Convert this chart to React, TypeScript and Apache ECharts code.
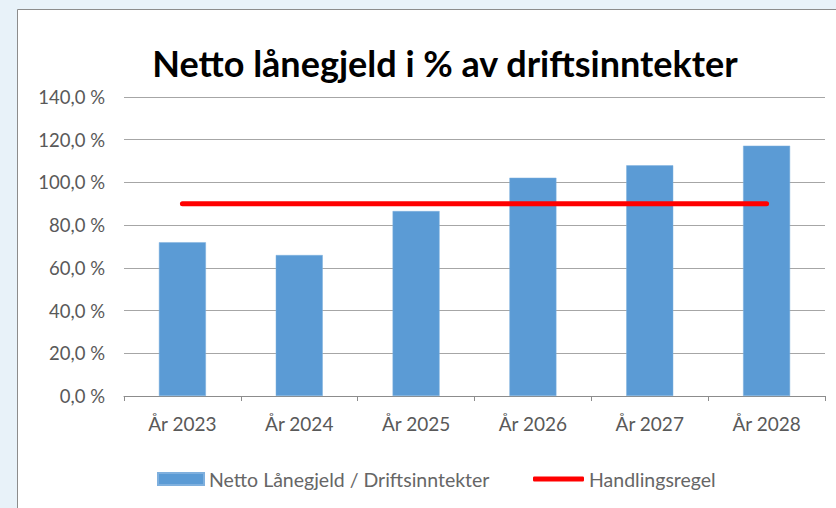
import React, { useEffect, useRef } from "react";
import * as echarts from "echarts";

const categories = ["År 2023", "År 2024", "År 2025", "År 2026", "År 2027", "År 2028"];
const barValues = [72.0, 66.0, 86.6, 102.2, 108.0, 117.2];
const ruleValues = [90, 90, 90, 90, 90, 90];
const barName = "Netto Lånegjeld / Driftsinntekter";
const lineName = "Handlingsregel";
const titleText = "Netto lånegjeld i % av driftsinntekter";

export default function App() {
  const ref = useRef<HTMLDivElement>(null);
  useEffect(() => {
    if (!ref.current) return;
    const chart = echarts.init(ref.current, undefined, { renderer: "svg" });
    const font = "Lato, 'Open Sans', sans-serif";
    chart.setOption({
      animation: false,
      backgroundColor: "#e8f2f9",
      graphic: [
        {
          type: "rect",
          shape: { x: 17.5, y: 9.5, width: 900, height: 600 },
          style: { fill: "#ffffff", stroke: "#8c8c8c", lineWidth: 1 },
          z: -10,
        },
      ],
      title: {
        text: titleText,
        left: 440,
        textAlign: "center",
        top: 40,
        textStyle: { fontFamily: font, fontWeight: "bold", fontSize: 36, color: "#000000" },
      },
      grid: { left: 124, right: 11, top: 97, bottom: 112, containLabel: false },
      legend: [
        {
          data: [{ name: barName, icon: "rect" }],
          left: 152,
          top: 464,
          itemWidth: 46,
          itemHeight: 12,
          textStyle: { fontFamily: font, fontSize: 19.5, color: "#666666" },
        },
        {
          data: [{ name: lineName, icon: "roundRect" }],
          left: 528,
          top: 464,
          itemWidth: 51,
          itemHeight: 5,
          textStyle: { fontFamily: font, fontSize: 19.5, color: "#666666" },
        },
      ],
      xAxis: {
        type: "category",
        data: categories,
        boundaryGap: true,
        axisLine: { lineStyle: { color: "#8c8c8c" } },
        axisTick: { show: true, length: 5, lineStyle: { color: "#8c8c8c" } },
        axisLabel: { fontFamily: font, fontSize: 19, color: "#595959", margin: 18 },
      },
      yAxis: {
        type: "value",
        min: 0,
        max: 140,
        interval: 20,
        axisLine: { show: false },
        axisTick: { show: false },
        splitLine: { lineStyle: { color: "#a6a6a6", width: 1 } },
        axisLabel: {
          fontFamily: font,
          fontSize: 18.5,
          color: "#595959",
          margin: 19,
          formatter: (v: number) => v.toFixed(1).replace(".", ",") + " %",
        },
      },
      series: [
        {
          name: barName,
          type: "bar",
          data: barValues,
          barWidth: 47,
          itemStyle: { color: "#5b9bd5", borderColor: "#7fb0de", borderWidth: 0.5 },
        },
        {
          name: lineName,
          type: "line",
          data: ruleValues,
          symbol: "none",
          lineStyle: { color: "#ff0000", width: 5, cap: "round" },
          itemStyle: { color: "#ff0000" },
        },
      ],
    });
    return () => chart.dispose();
  }, []);
  return (
    <div
      ref={ref}
      style={{ position: "fixed", left: 0, top: 0, width: 836, height: 508 }}
    />
  );
}
